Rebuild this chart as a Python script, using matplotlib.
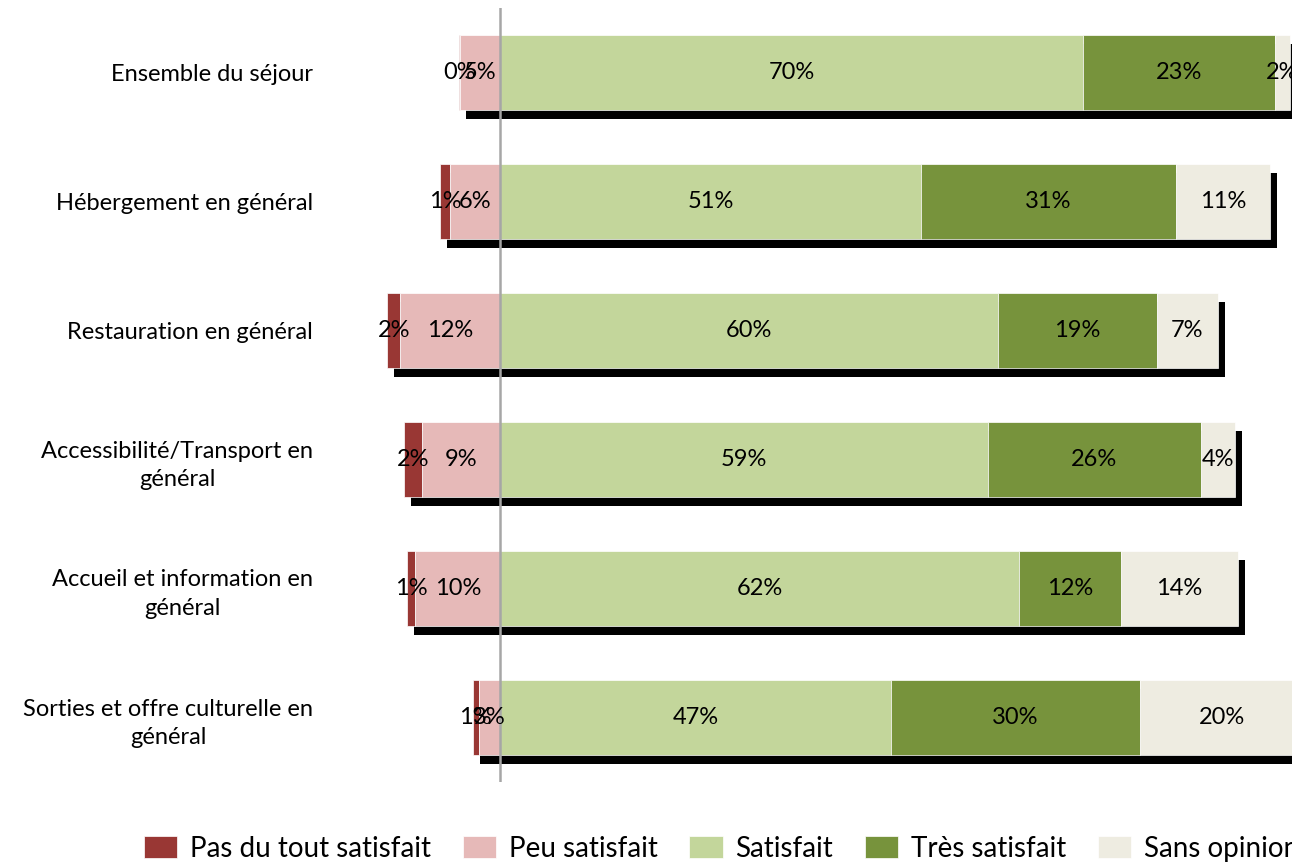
import numpy as np
import matplotlib
matplotlib.use('Agg')
import matplotlib.pyplot as plt
from matplotlib.transforms import ScaledTranslation

plt.rcParams['font.family'] = ['Lato', 'DejaVu Sans']

# Catégories (de haut en bas)
categories = [
    'Ensemble du séjour',
    'Hébergement en général',
    'Restauration en général',
    'Accessibilité/Transport en\ngénéral',
    'Accueil et information en\ngénéral',
    'Sorties et offre culturelle en\ngénéral',
]

# Valeurs en %
pas_du_tout = [0.2, 1.3, 1.6, 2.2, 1.0, 0.7]
peu = [4.8, 6.0, 12.0, 9.4, 10.2, 2.6]
satisfait = [70.2, 50.6, 59.9, 58.7, 62.4, 47.0]
tres = [23.0, 30.7, 19.1, 25.6, 12.3, 30.0]
sans_opinion = [1.8, 11.4, 7.4, 4.1, 14.1, 19.7]

series_names = ['Pas du tout satisfait', 'Peu satisfait', 'Satisfait',
                'Très satisfait', 'Sans opinion']
colors = ['#993734', '#E6B9B8', '#C3D69B', '#77933C', '#EEECE1']

fig = plt.figure(figsize=(12.92, 8.65), dpi=100)
ax = fig.add_axes([334 / 1292, 1 - 782 / 865, (1292 - 334) / 1292, (782 - 8) / 865])

y = np.arange(len(categories))
h = 0.58

pas = np.array(pas_du_tout)
pe = np.array(peu)
neg_start = -(pas + pe)
total = pas + pe + np.array(satisfait) + np.array(tres) + np.array(sans_opinion)

# Ombre noire derrière chaque barre
shadow_tr = ax.transData + ScaledTranslation(7 / 100, -9 / 100, fig.dpi_scale_trans)
ax.barh(y, total, left=neg_start, height=h, color='black', transform=shadow_tr, zorder=1)

# Barres empilées (partie négative à gauche de zéro)
lefts = neg_start.copy()
for name, vals, col in zip(series_names,
                           [pas_du_tout, peu, satisfait, tres, sans_opinion], colors):
    vals = np.array(vals)
    ax.barh(y, vals, left=lefts, height=h, color=col, edgecolor='white',
            linewidth=0.5, label=name, zorder=2)
    for yi, l, v in zip(y, lefts, vals):
        ax.text(l + v / 2, yi, f'{v:.0f}%', ha='center', va='center',
                fontsize=17, color='black', zorder=4)
    lefts = lefts + vals

ax.axvline(0, color='#A6A6A6', linewidth=1.8, zorder=3)

ax.set_xlim(-20, 95.3)
ax.set_ylim(len(categories) - 0.5, -0.5)
ax.set_yticks(y)
ax.set_yticklabels(categories, fontsize=17)
for lab in ax.get_yticklabels():
    lab.set_multialignment('center')
    lab.set_linespacing(1.45)
ax.tick_params(axis='y', length=0, pad=15)
ax.set_xticks([])
for s in ax.spines.values():
    s.set_visible(False)

fig.legend(loc='lower left', bbox_to_anchor=(144 / 1292, 3 / 865), ncol=5, frameon=False,
           fontsize=20, handlelength=1.2, handleheight=0.85, handletextpad=0.45,
           columnspacing=1.15, borderaxespad=0, borderpad=0)

fig.savefig('out.png', dpi=100)
